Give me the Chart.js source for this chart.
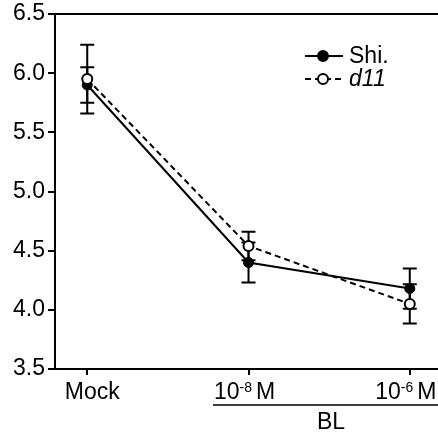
<!DOCTYPE html>
<html>
<head>
<meta charset="utf-8">
<script src="https://cdn.jsdelivr.net/npm/chart.js@4.4.1/dist/chart.umd.min.js"></script>
<style>
  body { margin: 0; background: #fff; }
  canvas { display: block; }
</style>
</head>
<body>
<canvas id="chart" width="438" height="434"></canvas>
<script>
// data
const categories = ["Mock", "10-8 M", "10-6 M"];
const xPositions = [0, 1, 2];
const shiMeans = [5.90, 4.40, 4.18];
const shiErrors = [0.15, 0.17, 0.17];
const d11Means = [5.95, 4.54, 4.05];
const d11Errors = [0.29, 0.12, 0.166];
const yTicks = [3.5, 4.0, 4.5, 5.0, 5.5, 6.0, 6.5];
const groupLabel = "BL";

const FONT = "'Liberation Sans', Arial, sans-serif";

function toPoints(means) {
  return means.map((m, i) => ({ x: xPositions[i], y: m }));
}

// error bars, drawn under the points
const errorBars = {
  id: "errorBars",
  beforeDatasetsDraw(chart) {
    const ctx = chart.ctx;
    const xs = chart.scales.x;
    const ys = chart.scales.y;
    ctx.save();
    ctx.strokeStyle = "#000";
    ctx.lineWidth = 2;
    chart.data.datasets.forEach((ds) => {
      ds.data.forEach((p, i) => {
        const x = xs.getPixelForValue(p.x);
        const top = ys.getPixelForValue(p.y + ds.errors[i]);
        const bot = ys.getPixelForValue(p.y - ds.errors[i]);
        ctx.beginPath();
        ctx.moveTo(x, top);
        ctx.lineTo(x, bot);
        ctx.moveTo(x - 7, top);
        ctx.lineTo(x + 7, top);
        ctx.moveTo(x - 7, bot);
        ctx.lineTo(x + 7, bot);
        ctx.stroke();
      });
    });
    ctx.restore();
  },
};

// top frame line, x labels with superscripts, BL bracket, legend
const decorations = {
  id: "decorations",
  afterDraw(chart) {
    const ctx = chart.ctx;
    const area = chart.chartArea;
    const xs = chart.scales.x;
    ctx.save();
    ctx.strokeStyle = "#000";
    ctx.fillStyle = "#000";

    ctx.lineWidth = 2;
    ctx.beginPath();
    ctx.moveTo(area.left - 1, area.top);
    ctx.lineTo(chart.width, area.top);
    ctx.stroke();

    // x labels
    ctx.textBaseline = "alphabetic";
    const baseY = 399;
    categories.forEach((label, i) => {
      const cx = xs.getPixelForValue(xPositions[i]);
      const m = label.match(/^10(-\d+) (.+)$/);
      if (!m) {
        ctx.font = "23px " + FONT;
        ctx.textAlign = "center";
        ctx.fillText(label, cx + 5, baseY);
        return;
      }
      ctx.textAlign = "left";
      ctx.font = "23px " + FONT;
      const w1 = ctx.measureText("10").width;
      const w3 = ctx.measureText(m[2]).width;
      ctx.font = "14px " + FONT;
      const w2 = ctx.measureText(m[1]).width;
      const gap = 4;
      const total = w1 + w2 + gap + w3;
      let x = cx - 4 - total / 2;
      ctx.font = "23px " + FONT;
      ctx.fillText("10", x, baseY);
      x += w1;
      ctx.font = "14px " + FONT;
      ctx.fillText(m[1], x, baseY - 7);
      x += w2 + gap;
      ctx.font = "23px " + FONT;
      ctx.fillText(m[2], x, baseY);
    });

    // BL bracket
    ctx.lineWidth = 1.5;
    ctx.beginPath();
    ctx.moveTo(213, 405);
    ctx.lineTo(chart.width, 405);
    ctx.stroke();
    ctx.font = "23px " + FONT;
    ctx.textAlign = "center";
    ctx.fillText(groupLabel, 331, 429);

    // legend
    const items = chart.data.datasets;
    items.forEach((ds, i) => {
      const y = 56 + i * 23;
      ctx.lineWidth = 2;
      ctx.setLineDash(ds.borderDash || []);
      ctx.beginPath();
      ctx.moveTo(305, y);
      ctx.lineTo(343, y);
      ctx.stroke();
      ctx.setLineDash([]);
      ctx.beginPath();
      ctx.arc(323, y, 5, 0, Math.PI * 2);
      ctx.fillStyle = ds.pointBackgroundColor;
      ctx.fill();
      ctx.stroke();
      ctx.fillStyle = "#000";
      ctx.textAlign = "left";
      ctx.textBaseline = "middle";
      ctx.font = (ds.italic ? "italic " : "") + "23px " + FONT;
      ctx.fillText(ds.label, 349, y + 1);
    });
    ctx.restore();
  },
};

new Chart(document.getElementById("chart"), {
  type: "line",
  data: {
    datasets: [
      {
        label: "Shi.",
        data: toPoints(shiMeans),
        errors: shiErrors,
        borderColor: "#000",
        borderWidth: 2,
        pointRadius: 5,
        pointBackgroundColor: "#000",
        pointBorderColor: "#000",
        pointBorderWidth: 1,
        order: 2,
      },
      {
        label: "d11",
        data: toPoints(d11Means),
        errors: d11Errors,
        italic: true,
        borderColor: "#000",
        borderWidth: 2,
        borderDash: [6, 4],
        pointRadius: 5,
        pointBackgroundColor: "#fff",
        pointBorderColor: "#000",
        pointBorderWidth: 2,
        order: 1,
      },
    ],
  },
  options: {
    responsive: false,
    animation: false,
    layout: { autoPadding: false, padding: { top: 14, right: 0, left: 0, bottom: 0 } },
    plugins: { legend: { display: false }, tooltip: { enabled: false } },
    scales: {
      x: {
        type: "linear",
        min: -0.2,
        max: 2.175,
        afterBuildTicks: (scale) => {
          scale.ticks = xPositions.map((v) => ({ value: v }));
        },
        afterFit: (scale) => {
          scale.height = 65;
          scale.paddingLeft = 0;
          scale.paddingRight = 0;
        },
        ticks: { display: false },
        grid: { drawOnChartArea: false, tickLength: 6, color: "#000", lineWidth: 2 },
        border: { color: "#000", width: 2 },
      },
      y: {
        min: 3.5,
        max: 6.5,
        afterBuildTicks: (scale) => {
          scale.ticks = yTicks.map((v) => ({ value: v }));
        },
        afterFit: (scale) => {
          scale.width = 55;
          scale.paddingTop = 0;
          scale.paddingBottom = 0;
        },
        ticks: {
          color: "#000",
          padding: 3,
          font: { family: FONT, size: 23 },
          callback: (v) => v.toFixed(1),
        },
        grid: { drawOnChartArea: false, tickLength: 7, color: "#000", lineWidth: 2 },
        border: { color: "#000", width: 2 },
      },
    },
  },
  plugins: [errorBars, decorations],
});
</script>
</body>
</html>
